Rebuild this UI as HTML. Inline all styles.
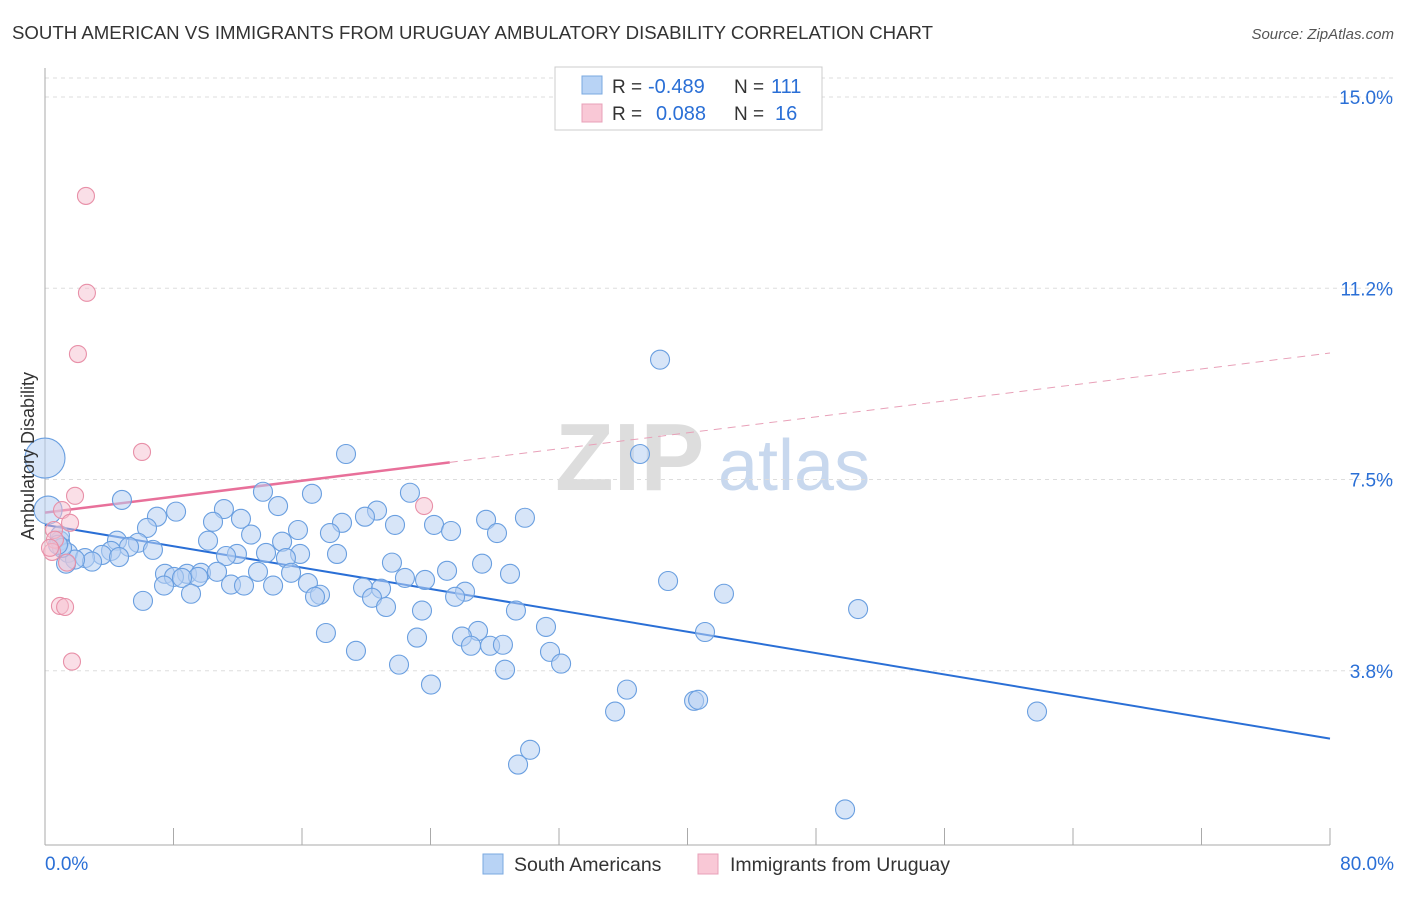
<!DOCTYPE html>
<html><head><meta charset="utf-8"><style>
body{margin:0;background:#fff;font-family:"Liberation Sans",sans-serif;}
svg text{font-family:"Liberation Sans",sans-serif;}
</style></head><body>
<svg id="chart" width="1406" height="892" xmlns="http://www.w3.org/2000/svg">
<text x="12" y="39" font-size="18.5" fill="#333" textLength="921" lengthAdjust="spacingAndGlyphs">SOUTH AMERICAN VS IMMIGRANTS FROM URUGUAY AMBULATORY DISABILITY CORRELATION CHART</text>
<text x="1394" y="39" font-size="15" fill="#555" text-anchor="end" font-style="italic">Source: ZipAtlas.com</text>
<g>
<text x="555" y="490" font-size="96" fill="#ddd" font-family="Liberation Serif" font-weight="bold">ZIP</text>
<text x="718" y="490" font-size="72" fill="#c8d8ee">atlas</text>
</g>
<g id="grid"></g>
<g id="axes"></g>
<g id="lines"></g>
<g id="pts"></g>
<text transform="translate(34,456) rotate(-90)" font-size="18" fill="#333" text-anchor="middle">Ambulatory Disability</text>
<g>
<rect x="555" y="67" width="267" height="63" fill="#fff" stroke="#ccc"/>
<rect x="582" y="76" width="20" height="18" fill="#b8d3f5" stroke="#7aa8e0"/>
<rect x="582" y="104" width="20" height="18" fill="#f9c8d6" stroke="#e8a0b8"/>
<text x="612" y="93" font-size="19" fill="#333">R =</text>
<text x="648" y="93" font-size="20" fill="#2a6fd6">-0.489</text>
<text x="734" y="93" font-size="19" fill="#333">N =</text>
<text x="771" y="93" font-size="20" fill="#2a6fd6">111</text>
<text x="612" y="120" font-size="19" fill="#333">R =</text>
<text x="656" y="120" font-size="20" fill="#2a6fd6">0.088</text>
<text x="734" y="120" font-size="19" fill="#333">N =</text>
<text x="775" y="120" font-size="20" fill="#2a6fd6">16</text>
</g>
<g>
<rect x="483" y="854" width="20" height="20" fill="#b8d3f5" stroke="#7aa8e0"/>
<text x="514" y="871" font-size="19.5" fill="#333">South Americans</text>
<rect x="698" y="854" width="20" height="20" fill="#f9c8d6" stroke="#e8a0b8"/>
<text x="730" y="871" font-size="19.5" fill="#333">Immigrants from Uruguay</text>
</g>
</svg>
<script>
const yTicks=[15.0,11.25,7.5,3.75];
const yTickLabels=["15.0%","11.2%","7.5%","3.8%"];
const xTickLabels=["0.0%","80.0%"];
const blueX=[38.29,37.04,18.74,13.57,16.62,22.72,4.79,14.51,11.14,8.16,6.97,20.67,19.92,12.20,10.46,27.46,29.88,18.49,24.22,21.79,6.35,15.75,25.28,17.74,28.14,12.83,14.76,10.15,4.48,0.93,5.79,5.23,6.72,11.95,11.27,13.76,15.88,18.18,15.0,4.11,3.55,4.61,1.43,2.49,2.93,1.87,1.31,21.60,27.21,25.03,7.47,8.84,8.03,9.71,10.71,13.26,15.32,28.95,22.41,23.66,38.79,9.53,8.53,7.41,11.58,12.39,14.20,16.37,19.80,20.92,9.09,17.12,16.81,20.36,26.15,25.53,42.27,6.10,21.23,23.47,29.32,50.62,31.19,17.49,26.96,41.09,25.96,23.16,27.71,26.52,28.51,19.36,31.44,22.04,32.13,28.64,24.03,36.23,35.49,40.41,40.66,61.76,30.20,29.45,49.81,0,0.19,0.93,1.06,0.81];
const blueY=[9.85,8.00,8.00,7.26,7.22,7.24,7.10,6.98,6.92,6.87,6.77,6.89,6.77,6.73,6.67,6.71,6.75,6.65,6.61,6.61,6.55,6.51,6.49,6.45,6.45,6.42,6.28,6.30,6.30,6.30,6.26,6.18,6.12,6.04,6.00,6.06,6.04,6.04,5.96,6.10,6.02,5.98,6.06,5.96,5.89,5.93,5.85,5.87,5.85,5.71,5.65,5.65,5.59,5.67,5.69,5.69,5.67,5.65,5.57,5.53,5.51,5.59,5.57,5.42,5.44,5.42,5.42,5.47,5.38,5.36,5.26,5.24,5.20,5.18,5.30,5.20,5.26,5.12,5.00,4.93,4.93,4.96,4.61,4.49,4.53,4.51,4.42,4.40,4.24,4.24,4.26,4.14,4.12,3.87,3.89,3.77,3.48,3.38,2.95,3.16,3.18,2.95,2.20,1.91,1.03,7.92,6.90,6.40,6.16,6.22];
const pinkX=[2.55,2.61,2.05,6.04,1.87,23.60,1.06,1.56,0.56,0.62,0.44,1.37,0.93,1.25,1.68,0.31];
const pinkY=[13.06,11.16,9.96,8.04,7.18,6.98,6.90,6.65,6.51,6.32,6.08,5.87,5.02,5.00,3.93,6.16];
const blueTrend=[6.61,2.42];
const pinkTrend=[6.85,9.98];
const pinkSolidEnd=25.2;
const X0=45,X1=1330,Y15=97,PX_PER=51.0;
const sx=v=>X0+(v/80)*(X1-X0);
const sy=v=>Y15+(15-v)*PX_PER;
const NS="http://www.w3.org/2000/svg";
function mk(tag,attrs,parent){const e=document.createElementNS(NS,tag);for(const k in attrs)e.setAttribute(k,attrs[k]);parent.appendChild(e);return e;}
const grid=document.getElementById('grid'),axes=document.getElementById('axes'),lines=document.getElementById('lines'),pts=document.getElementById('pts');
let t=mk('line',{x1:45,x2:1394,y1:78,y2:78,stroke:'#ddd','stroke-dasharray':'4,4'},grid);


yTicks.forEach((v,i)=>{
 const g=mk('line',{x1:45,x2:1394,y1:sy(v),y2:sy(v),stroke:'#ddd','stroke-dasharray':'4,4'},grid);
 
 
 const tx=mk('text',{x:1393,y:sy(v)+7,'font-size':19,fill:'#2a6fd6','text-anchor':'end'},axes);
 tx.textContent=yTickLabels[i];
 
 
});
mk('line',{x1:45,x2:45,y1:68,y2:845,stroke:'#aaa'},axes);
mk('line',{x1:45,x2:1330,y1:845,y2:845,stroke:'#aaa'},axes);
for(let i=0;i<=10;i++){
 const tk=mk('line',{x1:sx(i*8),x2:sx(i*8),y1:828,y2:845,stroke:'#aaa'},axes);
 
 
}
[[0,'start',45],[80,'end',1394]].forEach((d,i)=>{
 const tx=mk('text',{x:d[2],y:870,'font-size':19,fill:'#2a6fd6','text-anchor':d[1]},axes);
 tx.textContent=xTickLabels[i];
 
 
});
const lerp=(a,x)=>a[0]+(a[1]-a[0])*x/80;
function circ(x,y,r,fill,stroke,name,op){
 const c=mk('circle',{cx:sx(x),cy:sy(y),r:r,fill:fill,'fill-opacity':op,stroke:stroke,'stroke-width':1.1},pts);
 
 
}
blueX.forEach((x,i)=>{
 let r=9.5; if(i===blueX.length-5) r=20; if(i===blueX.length-4) r=14;
 circ(x,blueY[i],r,'#b6d0f2','#6a9fe0','south-american-point',0.55);
});
pinkX.forEach((x,i)=>circ(x,pinkY[i],8.5,'#f6c0d0','#e890a8','uruguay-immigrant-point',0.5));
let l=mk('line',{x1:sx(0),y1:sy(lerp(blueTrend,0)),x2:sx(80),y2:sy(lerp(blueTrend,80)),stroke:'#2a6fd6','stroke-width':2},lines);


l=mk('line',{x1:sx(0),y1:sy(lerp(pinkTrend,0)),x2:sx(pinkSolidEnd),y2:sy(lerp(pinkTrend,pinkSolidEnd)),stroke:'#e8709a','stroke-width':2.5},lines);


l=mk('line',{x1:sx(pinkSolidEnd),y1:sy(lerp(pinkTrend,pinkSolidEnd)),x2:sx(80),y2:sy(lerp(pinkTrend,80)),stroke:'#e8a0b8','stroke-width':1,'stroke-dasharray':'8,6'},lines);


</script>
</body></html>
